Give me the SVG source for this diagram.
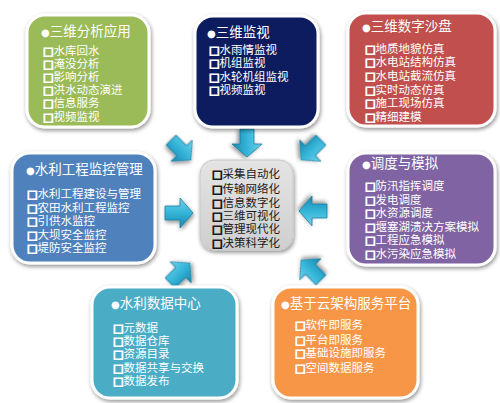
<svg xmlns="http://www.w3.org/2000/svg" width="500" height="403" viewBox="0 0 500 403">
<defs>
<filter id="sh" x="-20%" y="-20%" width="140%" height="140%">
<feGaussianBlur in="SourceAlpha" stdDeviation="2"/>
<feOffset dx="1" dy="2" result="b"/>
<feComponentTransfer><feFuncA type="linear" slope="0.45"/></feComponentTransfer>
<feMerge><feMergeNode/><feMergeNode in="SourceGraphic"/></feMerge>
</filter>
<linearGradient id="ag" x1="0" y1="0" x2="0" y2="1">
<stop offset="0" stop-color="#6fd3ec"/>
<stop offset="0.5" stop-color="#34b4d8"/>
<stop offset="1" stop-color="#1a86ab"/>
</linearGradient>
<linearGradient id="cg" x1="0" y1="0" x2="0" y2="1">
<stop offset="0" stop-color="#e4e4e4"/>
<stop offset="1" stop-color="#cfcfcf"/>
</linearGradient>
<path id="arr" d="M-14,-7 L1,-7 L1,-15 L14,0 L1,15 L1,7 L-14,7 Z"/>
</defs>
<style>
.box{stroke:#fff;stroke-width:3;filter:url(#sh)}
.t{font-family:"Liberation Sans","Noto Sans CJK SC",sans-serif;fill:#fff}
.ti{font-size:13.5px}
.it{font-size:11.5px}
.sq{font-family:"DejaVu Sans",sans-serif;font-weight:bold;font-size:11px;stroke:currentColor}
.bu{font-family:"DejaVu Sans",sans-serif;font-size:10px}
.dk{fill:#1a1a1a}
.a{fill:url(#ag);stroke:#1c7f9e;stroke-width:0.8;filter:url(#sh)}
</style>
<rect width="500" height="403" fill="#fff"/>

<g id="connectors">
<use href="#arr" class="a" transform="translate(247,143) rotate(90)"/>
<use href="#arr" class="a" transform="translate(181,150) rotate(45)"/>
<use href="#arr" class="a" transform="translate(311,150) rotate(135)"/>
<use href="#arr" class="a" transform="translate(179,213)"/>
<use href="#arr" class="a" transform="translate(313,211) rotate(180)"/>
<use href="#arr" class="a" transform="translate(180,273) rotate(-45)"/>
<use href="#arr" class="a" transform="translate(311,270) rotate(-135)"/>
</g>

<g id="n-analysis" color="#fff">
<rect class="box" x="27" y="15" width="122" height="112" rx="18" fill="#9bbb59"/>
<text class="t ti" x="41" y="36"><tspan class="bu">●</tspan>三维分析应用</text>
<text class="t it" x="43" y="55"><tspan class="sq">□</tspan>水库回水</text>
<text class="t it" x="43" y="68"><tspan class="sq">□</tspan>淹没分析</text>
<text class="t it" x="43" y="81"><tspan class="sq">□</tspan>影响分析</text>
<text class="t it" x="43" y="94"><tspan class="sq">□</tspan>洪水动态演进</text>
<text class="t it" x="43" y="107"><tspan class="sq">□</tspan>信息服务</text>
<text class="t it" x="43" y="121"><tspan class="sq">□</tspan>视频监视</text>
</g>

<g id="n-monitor" color="#fff">
<rect class="box" x="195" y="16" width="123" height="111" rx="18" fill="#0c1f5e"/>
<text class="t ti" x="207" y="37"><tspan class="bu">●</tspan>三维监视</text>
<text class="t it" x="209" y="54"><tspan class="sq">□</tspan>水雨情监视</text>
<text class="t it" x="209" y="67"><tspan class="sq">□</tspan>机组监视</text>
<text class="t it" x="209" y="81"><tspan class="sq">□</tspan>水轮机组监视</text>
<text class="t it" x="209" y="94"><tspan class="sq">□</tspan>视频监视</text>
</g>

<g id="n-sandbox" color="#fff">
<rect class="box" x="348" y="13" width="147" height="113" rx="18" fill="#c0504d"/>
<text class="t ti" x="362" y="31"><tspan class="bu">●</tspan>三维数字沙盘</text>
<text class="t it" x="365" y="53"><tspan class="sq">□</tspan>地质地貌仿真</text>
<text class="t it" x="365" y="66"><tspan class="sq">□</tspan>水电站结构仿真</text>
<text class="t it" x="365" y="80"><tspan class="sq">□</tspan>水电站截流仿真</text>
<text class="t it" x="365" y="94"><tspan class="sq">□</tspan>实时动态仿真</text>
<text class="t it" x="365" y="107"><tspan class="sq">□</tspan>施工现场仿真</text>
<text class="t it" x="365" y="121"><tspan class="sq">□</tspan>精细建模</text>
</g>

<g id="n-engineering" color="#fff">
<rect class="box" x="12" y="153" width="143" height="110" rx="18" fill="#4f81bd"/>
<text class="t ti" x="26" y="174"><tspan class="bu">●</tspan>水利工程监控管理</text>
<text class="t it" x="27" y="198"><tspan class="sq">□</tspan>水利工程建设与管理</text>
<text class="t it" x="27" y="212"><tspan class="sq">□</tspan>农田水利工程监控</text>
<text class="t it" x="27" y="225"><tspan class="sq">□</tspan>引供水监控</text>
<text class="t it" x="27" y="239"><tspan class="sq">□</tspan>大坝安全监控</text>
<text class="t it" x="27" y="252"><tspan class="sq">□</tspan>堤防安全监控</text>
</g>

<g id="n-center" color="#1a1a1a">
<rect x="200" y="160" width="93" height="90" rx="14" fill="url(#cg)" stroke="#c8c8c8" stroke-width="1" filter="url(#sh)"/>
<text class="t it dk" x="212" y="178"><tspan class="sq">□</tspan>采集自动化</text>
<text class="t it dk" x="212" y="193"><tspan class="sq">□</tspan>传输网络化</text>
<text class="t it dk" x="212" y="207"><tspan class="sq">□</tspan>信息数字化</text>
<text class="t it dk" x="212" y="220"><tspan class="sq">□</tspan>三维可视化</text>
<text class="t it dk" x="212" y="233"><tspan class="sq">□</tspan>管理现代化</text>
<text class="t it dk" x="212" y="247"><tspan class="sq">□</tspan>决策科学化</text>
</g>

<g id="n-dispatch" color="#fff">
<rect class="box" x="348" y="153" width="147" height="112" rx="18" fill="#8064a2"/>
<text class="t ti" x="362" y="168"><tspan class="bu">●</tspan>调度与模拟</text>
<text class="t it" x="365" y="190"><tspan class="sq">□</tspan>防汛指挥调度</text>
<text class="t it" x="365" y="204"><tspan class="sq">□</tspan>发电调度</text>
<text class="t it" x="365" y="217"><tspan class="sq">□</tspan>水资源调度</text>
<text class="t it" x="365" y="231"><tspan class="sq">□</tspan>堰塞湖溃决方案模拟</text>
<text class="t it" x="365" y="244"><tspan class="sq">□</tspan>工程应急模拟</text>
<text class="t it" x="365" y="258"><tspan class="sq">□</tspan>水污染应急模拟</text>
</g>

<g id="n-datacenter" color="#fff">
<rect class="box" x="92" y="287" width="145" height="111" rx="18" fill="#4bacc6"/>
<text class="t ti" x="111" y="308"><tspan class="bu">●</tspan>水利数据中心</text>
<text class="t it" x="113" y="332"><tspan class="sq">□</tspan>元数据</text>
<text class="t it" x="113" y="345"><tspan class="sq">□</tspan>数据仓库</text>
<text class="t it" x="113" y="358"><tspan class="sq">□</tspan>资源目录</text>
<text class="t it" x="113" y="372"><tspan class="sq">□</tspan>数据共享与交换</text>
<text class="t it" x="113" y="385"><tspan class="sq">□</tspan>数据发布</text>
</g>

<g id="n-cloud" color="#fff">
<rect class="box" x="273" y="287" width="145" height="111" rx="18" fill="#f79646"/>
<text class="t ti" x="281" y="308"><tspan class="bu">●</tspan>基于云架构服务平台</text>
<text class="t it" x="295" y="329"><tspan class="sq">□</tspan>软件即服务</text>
<text class="t it" x="295" y="344"><tspan class="sq">□</tspan>平台即服务</text>
<text class="t it" x="295" y="357"><tspan class="sq">□</tspan>基础设施即服务</text>
<text class="t it" x="295" y="372"><tspan class="sq">□</tspan>空间数据服务</text>
</g>
</svg>
